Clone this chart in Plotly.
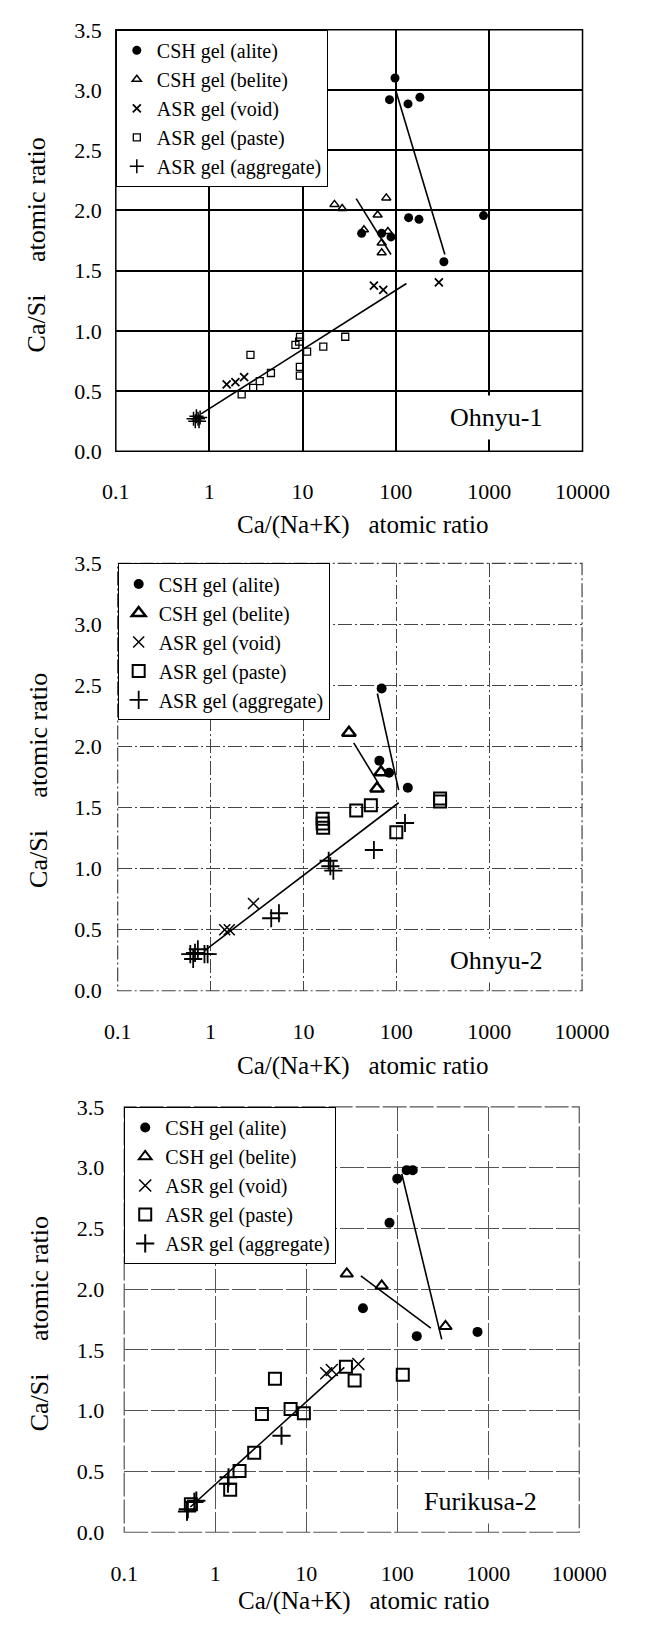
import plotly.graph_objects as go

# The page body keeps its default 8px margin, so the figure is drawn 8px in
# from the top-left corner: size it to fit the 647x1634 window exactly.
PAGE_W, PAGE_H = 647, 1634
OFF = 8
W, H = PAGE_W - 2 * OFF, PAGE_H - 2 * OFF

# ---------------- data ----------------
x_ticks = [0.1, 1, 10, 100, 1000, 10000]
x_ticktext = ["0.1", "1", "10", "100", "1000", "10000"]
y_ticks = [0.0, 0.5, 1.0, 1.5, 2.0, 2.5, 3.0, 3.5]
y_ticktext = ["0.0", "0.5", "1.0", "1.5", "2.0", "2.5", "3.0", "3.5"]

series_names = ["CSH gel (alite)", "CSH gel (belite)", "ASR gel (void)",
                "ASR gel (paste)", "ASR gel (aggregate)"]
panel_names = ["Ohnyu-1", "Ohnyu-2", "Furikusa-2"]
x_title = "Ca/(Na+K)\u00a0\u00a0\u00a0atomic ratio"
y_title = "Ca/Si\u00a0\u00a0\u00a0\u00a0\u00a0atomic ratio"

# Panel 1: Ohnyu-1
p1_alite_x = [98, 85.5, 135, 181, 137, 177, 327, 870, 43, 70.5, 88.7]
p1_alite_y = [3.10, 2.92, 2.885, 2.94, 1.94, 1.926, 1.574, 1.957, 1.81, 1.81, 1.78]
p1_belite_x = [22.0, 26.6, 79, 63.8, 45.5, 82.2, 70.5, 70.5]
p1_belite_y = [2.05, 2.016, 2.104, 1.962, 1.839, 1.825, 1.73, 1.648]
p1_void_x = [1.54, 1.91, 2.37, 58.2, 73.3, 289]
p1_void_y = [0.555, 0.574, 0.615, 1.375, 1.34, 1.402]
p1_paste_x = [2.77, 2.23, 2.96, 3.48, 4.59, 9.4, 9.2, 8.4, 11.2, 16.7, 9.37, 9.37, 28.7]
p1_paste_y = [0.80, 0.473, 0.527, 0.582, 0.65, 0.95, 0.91, 0.883, 0.828, 0.869, 0.70, 0.628, 0.951]
p1_aggr_x = [0.68, 0.71, 0.73, 0.76, 0.78, 0.80]
p1_aggr_y = [0.27, 0.25, 0.29, 0.27, 0.25, 0.28]
p1_fit_alite_x = [99.5, 335]
p1_fit_alite_y = [3.0, 1.634]
p1_fit_belite_x = [37.6, 88.7]
p1_fit_belite_y = [2.098, 1.634]
p1_fit_asr_x = [0.82, 130]
p1_fit_asr_y = [0.31, 1.393]

# Panel 2: Ohnyu-2
p2_alite_x = [69.5, 65.7, 83.5, 133]
p2_alite_y = [2.476, 1.885, 1.786, 1.663]
p2_belite_x = [30.9, 68.5, 62]
p2_belite_y = [2.113, 1.79, 1.656]
p2_void_x = [2.9, 1.42, 1.59]
p2_void_y = [0.715, 0.50, 0.50]
p2_paste_x = [16.1, 16.1, 16.3, 37, 53.2, 100, 296, 296]
p2_paste_y = [1.408, 1.371, 1.335, 1.476, 1.52, 1.298, 1.55, 1.575]
p2_aggr_x = [124, 57.4, 18.7, 19.5, 21, 4.5, 5.45, 0.605, 0.68, 0.73, 0.86, 0.93, 0.65]
p2_aggr_y = [1.374, 1.153, 1.065, 1.02, 0.984, 0.594, 0.635, 0.30, 0.31, 0.34, 0.30, 0.30, 0.26]
p2_fit_alite_x = [62.5, 106]
p2_fit_alite_y = [2.435, 1.643]
p2_fit_belite_x = [34.8, 64.4]
p2_fit_belite_y = [2.03, 1.697]
p2_fit_asr_x = [0.857, 106]
p2_fit_asr_y = [0.326, 1.54]

# Panel 3: Furikusa-2
p3_alite_x = [100, 127, 148, 82.2, 42, 164, 762]
p3_alite_y = [2.91, 2.98, 2.98, 2.546, 1.843, 1.614, 1.649]
p3_belite_x = [27.9, 67.5, 339]
p3_belite_y = [2.127, 2.028, 1.695]
p3_void_x = [16.6, 19.1, 37.4]
p3_void_y = [1.308, 1.336, 1.384]
p3_paste_x = [4.53, 3.26, 6.73, 9.42, 2.68, 1.85, 1.46, 27.3, 34, 115, 0.54]
p3_paste_y = [1.263, 0.973, 1.014, 0.979, 0.654, 0.505, 0.349, 1.362, 1.249, 1.297, 0.23]
p3_aggr_x = [5.35, 1.40, 1.38, 0.49, 0.50, 0.59, 0.62]
p3_aggr_y = [0.795, 0.452, 0.40, 0.17, 0.19, 0.25, 0.26]
p3_fit_alite_x = [112, 308]
p3_fit_alite_y = [2.95, 1.587]
p3_fit_belite_x = [39.8, 234]
p3_fit_belite_y = [2.109, 1.68]
p3_fit_asr_x = [0.533, 26.2]
p3_fit_asr_y = [0.208, 1.357]

# ---------------- layout geometry (page pixels) ----------------
# (left, right, top, bottom) of each plotting area, measured on the page
boxes = [(108.5, 608.5, 18, 446), (110.5, 608.0, 560, 994), (117.5, 605.0, 1112, 1544)]
FONT = "Liberation Serif"


def px(xp):
    return (xp - OFF) / W


def py(yp):
    return 1 - (yp - OFF) / H


panels = [
    dict(alite=(p1_alite_x, p1_alite_y), belite=(p1_belite_x, p1_belite_y),
         void=(p1_void_x, p1_void_y), paste=(p1_paste_x, p1_paste_y),
         aggr=(p1_aggr_x, p1_aggr_y),
         fits=[(p1_fit_alite_x, p1_fit_alite_y), (p1_fit_belite_x, p1_fit_belite_y),
               (p1_fit_asr_x, p1_fit_asr_y)],
         sizes=dict(c=9, t=8, x=8, s=7, p=10), widths=dict(t=1.5, x=1.8, s=1.3, p=1.5),
         grid=dict(color="black", width=1.5, dash="solid"), frame_dash="solid",
         ystand=13, xstand=25, label_pos=(516, 412), xt=(373, 75), yt=(24, 236)),
    dict(alite=(p2_alite_x, p2_alite_y), belite=(p2_belite_x, p2_belite_y),
         void=(p2_void_x, p2_void_y), paste=(p2_paste_x, p2_paste_y),
         aggr=(p2_aggr_x, p2_aggr_y),
         fits=[(p2_fit_alite_x, p2_fit_alite_y), (p2_fit_belite_x, p2_fit_belite_y),
               (p2_fit_asr_x, p2_fit_asr_y)],
         sizes=dict(c=10, t=12, x=11, s=12, p=13), widths=dict(t=2.5, x=1.5, s=2, p=1.8),
         grid=dict(color="#444444", width=1, dash="14px,3px,2px,3px"),
         frame_dash="14px,3px,2px,3px",
         ystand=15, xstand=25, label_pos=(516, 963), xt=(373, 76), yt=(25, 780)),
    dict(alite=(p3_alite_x, p3_alite_y), belite=(p3_belite_x, p3_belite_y),
         void=(p3_void_x, p3_void_y), paste=(p3_paste_x, p3_paste_y),
         aggr=(p3_aggr_x, p3_aggr_y),
         fits=[(p3_fit_alite_x, p3_fit_alite_y), (p3_fit_belite_x, p3_fit_belite_y),
               (p3_fit_asr_x, p3_fit_asr_y)],
         sizes=dict(c=10, t=11, x=12, s=12, p=13), widths=dict(t=2, x=1.5, s=2, p=2),
         grid=dict(color="#555555", width=1, dash="24px,3px"),
         frame_dash="24px,3px",
         ystand=19, xstand=26, label_pos=(499, 1513), xt=(374, 70), yt=(27, 1332)),
]

fig = go.Figure()
layout_axes = {}
annotations = []
shapes = []

for i, (pan, box) in enumerate(zip(panels, boxes)):
    n = "" if i == 0 else str(i + 1)
    xa, ya = "x" + n, "y" + n
    leg = "legend" + n
    L, R, T, B = box
    sz, wd = pan["sizes"], pan["widths"]
    specs = [
        ("alite", dict(symbol="circle", size=sz["c"], color="black", line=dict(width=0))),
        ("belite", dict(symbol="triangle-up-open", size=sz["t"], color="black",
                        line=dict(width=wd["t"], color="black"))),
        ("void", dict(symbol="x-thin-open", size=sz["x"], color="black",
                      line=dict(width=wd["x"], color="black"))),
        ("paste", dict(symbol="square-open", size=sz["s"], color="black",
                       line=dict(width=wd["s"], color="black"))),
        ("aggr", dict(symbol="cross-thin-open", size=sz["p"], color="black",
                      line=dict(width=wd["p"], color="black"))),
    ]
    for (key, mk), name in zip(specs, series_names):
        xs, ys = pan[key]
        fig.add_trace(go.Scatter(x=xs, y=ys, mode="markers", name=name, marker=mk,
                                 xaxis=xa, yaxis=ya, legend=leg, showlegend=True))
    for fx, fy in pan["fits"]:
        fig.add_trace(go.Scatter(x=fx, y=fy, mode="lines", line=dict(color="black", width=1.6),
                                 xaxis=xa, yaxis=ya, showlegend=False, hoverinfo="skip"))

    g = pan["grid"]
    layout_axes["xaxis" + n] = dict(
        type="log", range=[-1, 4], domain=[px(L), px(R)], anchor=ya,
        tickmode="array", tickvals=x_ticks, ticktext=x_ticktext,
        showgrid=True, gridcolor=g["color"], gridwidth=g["width"], griddash=g["dash"],
        zeroline=False, showline=False, ticks="", ticklabelstandoff=pan["xstand"],
        tickfont=dict(family=FONT, size=22, color="black"), fixedrange=True)
    layout_axes["yaxis" + n] = dict(
        range=[0, 3.5], domain=[py(B), py(T)], anchor=xa,
        tickmode="array", tickvals=y_ticks, ticktext=y_ticktext,
        showgrid=True, gridcolor=g["color"], gridwidth=g["width"], griddash=g["dash"],
        zeroline=False, showline=False, ticks="", ticklabelstandoff=pan["ystand"],
        tickfont=dict(family=FONT, size=22, color="black"), fixedrange=True)
    layout_axes[leg] = dict(
        x=px(L), y=py(T), xanchor="left", yanchor="top",
        bgcolor="white", bordercolor="black", borderwidth=1,
        font=dict(family=FONT, size=20, color="black"), tracegroupgap=0,
        itemwidth=30)

    shapes.append(dict(type="rect", xref=xa + " domain", yref=ya + " domain",
                       x0=0, x1=1, y0=0, y1=1, layer="above",
                       line=dict(color="black" if i == 0 else g["color"],
                                 width=1.5 if i == 0 else 1.2,
                                 dash=pan["frame_dash"])))
    lx, ly = pan["label_pos"]
    annotations.append(dict(text=panel_names[i], x=px(lx), y=py(ly), xref="paper",
                            yref="paper", xanchor="center", yanchor="middle",
                            showarrow=False, bgcolor="white", borderpad=7,
                            font=dict(family=FONT, size=26, color="black")))
    xtx, xtdy = pan["xt"]
    annotations.append(dict(text=x_title, x=px(xtx), y=py(B + xtdy),
                            xref="paper", yref="paper", xanchor="center", yanchor="middle",
                            showarrow=False, font=dict(family=FONT, size=25, color="black")))
    ytx, yty = pan["yt"]
    annotations.append(dict(text=y_title, x=px(ytx), y=py(yty),
                            xref="paper", yref="paper", xanchor="center", yanchor="middle",
                            showarrow=False, textangle=-90,
                            font=dict(family=FONT, size=26, color="black")))

fig.update_layout(
    width=W, height=H, margin=dict(l=0, r=0, t=0, b=0),
    paper_bgcolor="white", plot_bgcolor="white",
    annotations=annotations, shapes=shapes, **layout_axes)

fig.write_html("out.html")
